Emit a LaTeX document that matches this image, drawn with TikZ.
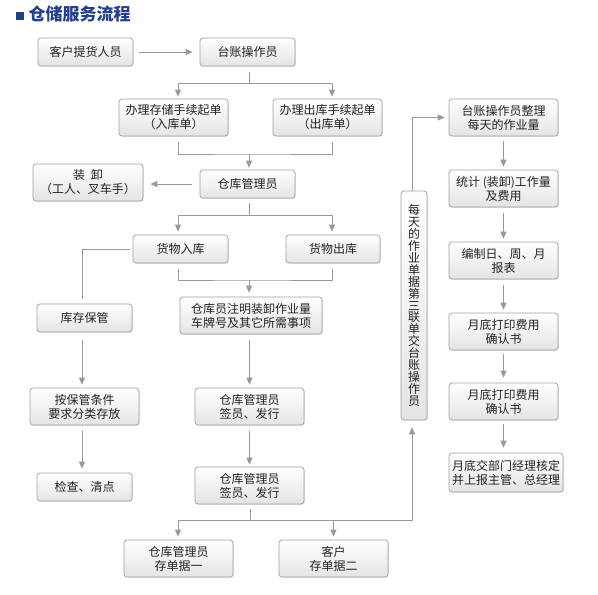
\documentclass[tikz,border=0pt]{standalone}
\usepackage{fontspec}
\newfontfamily\cjk{Noto Sans CJK SC}
\newcommand\myvtfont{\cjk\fontsize{12}{11.9}\selectfont\setlength{\lineskiplimit}{-20pt}}
\usetikzlibrary{arrows.meta,shadows}
\definecolor{linec}{HTML}{999999}
\definecolor{boxborder}{HTML}{A0A0A0}
\definecolor{boxbottom}{HTML}{E4E4E4}
\definecolor{textc}{HTML}{222222}
\definecolor{titlec}{HTML}{22408C}
\tikzset{
  box/.style={draw=boxborder, line width=0.7pt, rounded corners=3pt,
    top color=white, bottom color=boxbottom, align=center, inner sep=0pt,
    font=\cjk\fontsize{12}{14}\selectfont, text=textc,
    drop shadow={shadow xshift=0.8pt, shadow yshift=-0.8pt, opacity=0.22}},
  sbox/.style={box, minimum width=95pt, minimum height=28pt},
  mbox/.style={box, minimum width=109pt, minimum height=37pt},
  ln/.style={draw=linec, line width=0.8pt},
  arr/.style={ln, -{Triangle[length=7pt,width=6pt]}},
}
\begin{document}
\begin{tikzpicture}[x=1pt,y=-1pt]
\fill[white] (0,0) rectangle (598,595);
\useasboundingbox (0,0) rectangle (598,595);
% title
\fill[titlec] (16,12) rectangle (23.5,19.5);
\node[anchor=west, inner sep=0pt, text=titlec, font=\cjk\bfseries\fontsize{17}{20}\selectfont] (title) at (28.5,13.5) {仓储服务流程};
% nodes
\node[sbox] (kh) at (85.5,52) {客户提货人员};
\node[sbox] (tz) at (247.5,52) {台账操作员};
\node[mbox] (cc) at (173.5,117.5) {办理存储手续起单\\（入库单）};
\node[mbox] (ck) at (327.5,117.5) {办理出库手续起单\\（出库单）};
\node[sbox] (gl) at (247.5,184) {仓库管理员};
\node[box, minimum width=110pt, minimum height=37pt] (zx) at (88,182.5) {装\hspace{0.5em}卸\\（工人、叉车手）};
\node[sbox] (rk) at (180.5,249) {货物入库};
\node[sbox, minimum width=94pt] (chk) at (333,249) {货物出库};
\node[box, minimum width=142pt, minimum height=37pt] (zm) at (251,315.5) {仓库员注明装卸作业量\\车牌号及其它所需事项};
\node[sbox] (kc) at (84.5,318) {库存保管};
\node[mbox] (aj) at (84.5,406.5) {按保管条件\\要求分类存放};
\node[sbox] (jc) at (84.5,487) {检查、清点};
\node[mbox] (qy1) at (249.5,406.5) {仓库管理员\\签员、发行};
\node[mbox] (qy2) at (249.5,485.5) {仓库管理员\\签员、发行};
\node[mbox] (cd1) at (178.5,558.5) {仓库管理员\\存单据一};
\node[mbox] (cd2) at (333.5,558.5) {客户\\存单据二};
\node[box, minimum width=26pt, minimum height=229pt, font=\myvtfont] (vt) at (414,305.5)
  {每\\天\\的\\作\\业\\单\\据\\第\\三\\联\\单\\交\\台\\账\\操\\作\\员};
\node[mbox] (r1) at (503.5,117.5) {台账操作员整理\\每天的作业量};
\node[mbox] (r2) at (503.5,188.5) {统计 (装卸)工作量\\及费用};
\node[mbox] (r3) at (503.5,260.5) {编制日、周、月\\报表};
\node[mbox] (r4) at (503.5,331.5) {月底打印费用\\确认书};
\node[mbox] (r5) at (503.5,401.5) {月底打印费用\\确认书};
\node[box, minimum width=114pt, minimum height=39pt] (r6) at (506,472.5) {月底交部门经理核定\\并上报主管、总经理};
% junctions
\coordinate (j1) at (249,83);
\coordinate (j2) at (249,154);
\coordinate (j3) at (249,215);
\coordinate (j4) at (249,280);
\coordinate (j5) at (250,520);
% connectors
\draw[arr, shorten <=6pt, shorten >=7pt] (kh.east) -- (tz.west);
\draw[ln, shorten <=6pt] (tz.south -| j1) -- (j1);
\draw[arr] (j1) -| ([xshift=4.5pt,yshift=2pt]cc.north);
\draw[arr] (j1) -| ([xshift=4.5pt,yshift=2pt]ck.north);
\draw[ln] ([xshift=4.5pt,yshift=-6pt]cc.south) |- (j2) -| ([xshift=4.5pt,yshift=-6pt]ck.south);
\draw[arr, shorten >=2pt] (j2) -- (j2 |- gl.north);
\draw[arr, shorten <=8pt, shorten >=7pt] (gl.west) -- (gl.west -| zx.east);
\draw[ln, shorten <=5pt] (gl.south -| j3) -- (j3);
\draw[arr] (j3) -| ([xshift=-2.5pt,yshift=3pt]rk.north);
\draw[arr] (j3) -| ([xshift=-1pt,yshift=3pt]chk.north);
\draw[ln, shorten <=3pt, shorten >=5pt] (rk.west) -| ([xshift=-2.5pt]kc.north);
\draw[ln] ([xshift=-2.5pt,yshift=-6pt]rk.south) |- (j4) -| ([xshift=-1pt,yshift=-6pt]chk.south);
\draw[arr, shorten >=4pt] (j4) -- (j4 |- zm.north);
\draw[arr, shorten <=8pt, shorten >=3pt] ([xshift=-2.5pt]kc.south) -- ([xshift=-2.5pt]aj.north);
\draw[arr, shorten <=6pt, shorten >=4pt] ([xshift=-2.5pt]aj.south) -- ([xshift=-2.5pt]jc.north);
\draw[arr, shorten <=6pt, shorten >=3pt] (zm.south -| qy1.north) -- (qy1.north);
\draw[arr, shorten <=6pt, shorten >=2pt] (qy1.south) -- (qy2.north);
\draw[ln, shorten <=5pt] (qy2.south -| j5) -- (j5);
\draw[arr] (j5) -| ([xshift=-0.5pt,yshift=3pt]cd1.north);
\draw[arr] (j5) -| ([yshift=3pt]cd2.north);
\draw[arr, shorten >=7pt] (j5) -| ([xshift=-2pt]vt.south);
\draw[arr, shorten >=4pt] ([xshift=-2pt]vt.north) |- (r1.west);
\draw[arr, shorten <=5pt, shorten >=3pt] (r1.south) -- (r2.north);
\draw[arr, shorten <=6pt, shorten >=3pt] (r2.south) -- (r3.north);
\draw[arr, shorten <=6pt, shorten >=3pt] (r3.south) -- (r4.north);
\draw[arr, shorten <=4pt, shorten >=5pt] (r4.south) -- (r5.north);
\draw[arr, shorten <=4pt, shorten >=5pt] (r5.south) -- (r5.south |- r6.north);
\end{tikzpicture}
\end{document}
